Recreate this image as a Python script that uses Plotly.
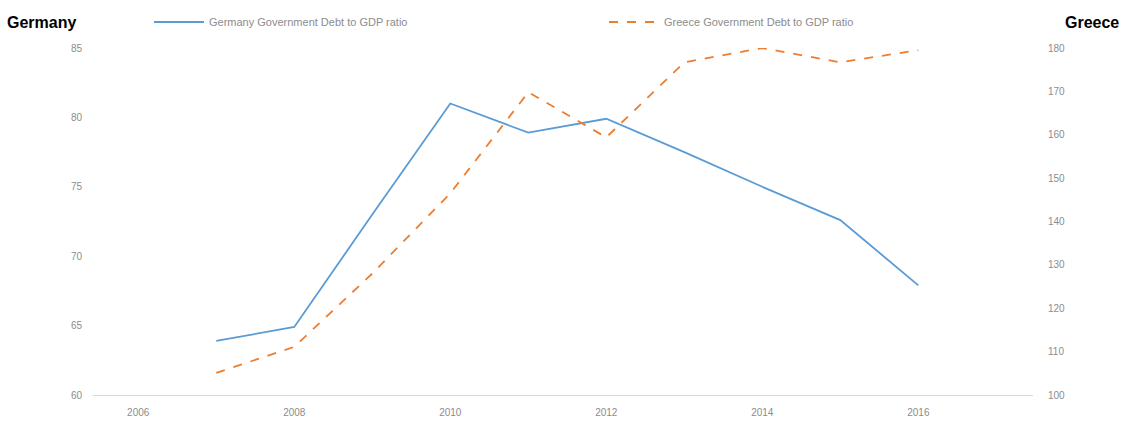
import plotly.graph_objects as go

years = [2007, 2008, 2009, 2010, 2011, 2012, 2013, 2014, 2015, 2016]
germany = [63.9, 64.9, 73.0, 81.0, 78.9, 79.9, 77.5, 75.0, 72.6, 67.9]
greece = [105.1, 111.1, 128.0, 146.5, 169.8, 159.4, 176.7, 180.0, 176.7, 179.5]
x_ticks = [2006, 2008, 2010, 2012, 2014, 2016]
left_ticks = [60, 65, 70, 75, 80, 85]
right_ticks = [100, 110, 120, 130, 140, 150, 160, 170, 180]

W, H = 1126, 424
L, R, T, B = 93, 93, 48, 29
pw = W - L - R
ph = H - T - B

fig = go.Figure()
fig.add_trace(go.Scatter(x=years, y=germany, mode="lines",
                         name="Germany Government Debt to GDP ratio",
                         line=dict(color="#5b9bd5", width=1.8)))
fig.add_trace(go.Scatter(x=years, y=greece, mode="lines", yaxis="y2",
                         name="Greece Government Debt to GDP ratio",
                         line=dict(color="#ed7d31", width=1.8, dash="dash")))


def py(pix):
    return (H - B - pix) / ph


def px(pix):
    return (pix - L) / pw


tickfont = dict(family="Arial, Liberation Sans, sans-serif", size=10, color="#8c8c8c")
fig.update_layout(
    width=W, height=H,
    margin=dict(l=L, r=R, t=T, b=B, autoexpand=False),
    paper_bgcolor="white", plot_bgcolor="white",
    xaxis=dict(range=[2005.42, 2017.47], tickvals=x_ticks, ticktext=[str(v) for v in x_ticks],
               showgrid=False, zeroline=False, showline=True, linecolor="#d9d9d9", linewidth=1,
               tickfont=tickfont, ticks="", ticklabelstandoff=8),
    yaxis=dict(range=[60, 85], tickvals=left_ticks, showgrid=False, zeroline=False,
               showline=False, tickfont=tickfont, ticks="", ticklabelstandoff=10),
    yaxis2=dict(range=[100, 180], tickvals=right_ticks, overlaying="y", side="right",
                showgrid=False, zeroline=False, showline=False, tickfont=tickfont, ticks="",
                ticklabelstandoff=14),
    legend=dict(orientation="h", x=px(149), y=py(22),
                xanchor="left", yanchor="middle",
                font=dict(family="Arial, Liberation Sans, sans-serif", size=11, color="#8c8c8c"),
                entrywidth=390, entrywidthmode="pixels", itemwidth=50,
                bgcolor="rgba(0,0,0,0)"),
    showlegend=True,
)

fig.add_annotation(text="<b>Germany</b>", xref="paper", yref="paper", x=px(5), y=py(22),
                   xanchor="left", yanchor="middle", showarrow=False,
                   font=dict(family="Arial, Liberation Sans, sans-serif", size=16, color="black"))
fig.add_annotation(text="<b>Greece</b>", xref="paper", yref="paper", x=px(1121), y=py(22),
                   xanchor="right", yanchor="middle", showarrow=False,
                   font=dict(family="Arial, Liberation Sans, sans-serif", size=16, color="black"))

fig.write_html("out.html", config={"displayModeBar": False},
               post_script="document.body.style.margin='0';document.body.style.padding='0';")
